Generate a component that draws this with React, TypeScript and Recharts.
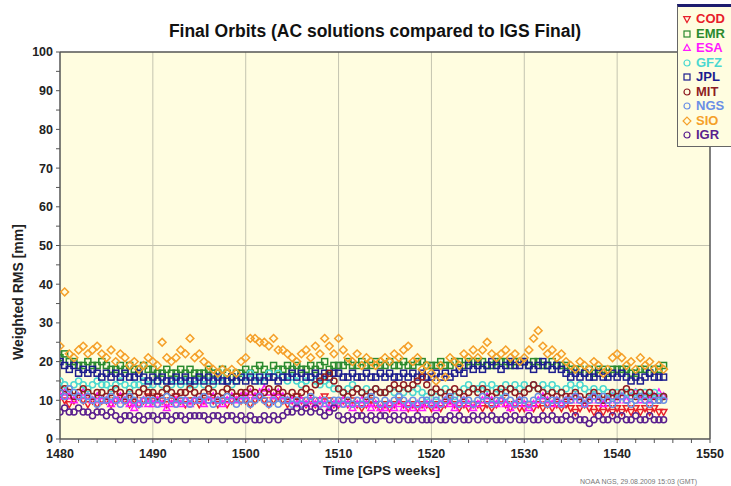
import React from "react"
import { ScatterChart, Scatter, XAxis, YAxis, CartesianGrid, ReferenceLine } from "recharts"

const FONT = "'Liberation Sans', Arial, Helvetica, sans-serif"

// GPS weeks (half-week sampling)
const weeks = [
  1480, 1480.5, 1481, 1481.5, 1482, 1482.5, 1483, 1483.5, 1484, 1484.5,
  1485, 1485.5, 1486, 1486.5, 1487, 1487.5, 1488, 1488.5, 1489, 1489.5,
  1490, 1490.5, 1491, 1491.5, 1492, 1492.5, 1493, 1493.5, 1494, 1494.5,
  1495, 1495.5, 1496, 1496.5, 1497, 1497.5, 1498, 1498.5, 1499, 1499.5,
  1500, 1500.5, 1501, 1501.5, 1502, 1502.5, 1503, 1503.5, 1504, 1504.5,
  1505, 1505.5, 1506, 1506.5, 1507, 1507.5, 1508, 1508.5, 1509, 1509.5,
  1510, 1510.5, 1511, 1511.5, 1512, 1512.5, 1513, 1513.5, 1514, 1514.5,
  1515, 1515.5, 1516, 1516.5, 1517, 1517.5, 1518, 1518.5, 1519, 1519.5,
  1520, 1520.5, 1521, 1521.5, 1522, 1522.5, 1523, 1523.5, 1524, 1524.5,
  1525, 1525.5, 1526, 1526.5, 1527, 1527.5, 1528, 1528.5, 1529, 1529.5,
  1530, 1530.5, 1531, 1531.5, 1532, 1532.5, 1533, 1533.5, 1534, 1534.5,
  1535, 1535.5, 1536, 1536.5, 1537, 1537.5, 1538, 1538.5, 1539, 1539.5,
  1540, 1540.5, 1541, 1541.5, 1542, 1542.5, 1543, 1543.5, 1544, 1544.5,
  1545,
]

const cod = [
  11, 10, 9, 10, 11, 10, 9, 10, 9, 10,
  10, 9, 10, 11, 10, 9, 10, 9, 10, 11,
  10, 11, 10, 9, 10, 11, 10, 9, 10, 10,
  9, 10, 11, 10, 9, 10, 9, 10, 11, 10,
  10, 9, 10, 11, 10, 9, 10, 11, 10, 9,
  10, 11, 10, 9, 10, 9, 10, 11, 10, 9,
  9, 10, 9, 10, 9, 8, 9, 10, 9, 8,
  9, 8, 9, 10, 9, 8, 9, 8, 9, 9,
  8, 9, 8, 9, 10, 9, 8, 9, 8, 9,
  9, 8, 9, 8, 9, 10, 9, 8, 9, 8,
  8, 9, 8, 9, 8, 9, 8, 9, 8, 9,
  8, 7, 8, 9, 8, 7, 8, 7, 8, 7,
  8, 7, 8, 7, 8, 7, 8, 7, 8, 7,
  7,
]

const emr = [
  21, 22, 20, 20, 19, 19, 20, 19, 19, 20,
  19, 18, 18, 19, 18, 19, 18, 18, 19, 18,
  18, 17, 17, 18, 17, 17, 18, 17, 18, 17,
  17, 17, 18, 17, 17, 18, 17, 16, 17, 17,
  18, 17, 18, 19, 18, 17, 19, 18, 18, 19,
  18, 19, 18, 18, 19, 18, 19, 20, 18, 19,
  19, 19, 20, 19, 19, 20, 19, 19, 20, 19,
  19, 20, 19, 19, 20, 19, 19, 20, 20, 19,
  19, 19, 20, 19, 19, 20, 20, 19, 20, 20,
  20, 20, 19, 19, 20, 20, 20, 19, 20, 20,
  20, 19, 20, 20, 19, 19, 20, 19, 19, 19,
  18, 18, 18, 17, 18, 17, 18, 18, 17, 18,
  18, 18, 18, 17, 17, 18, 18, 17, 18, 18,
  19,
]

const esa = [
  11, 12, 11, 10, 11, 12, 11, 10, 11, 10,
  10, 9, 10, 11, 10, 9, 8, 9, 10, 9,
  9, 10, 9, 8, 9, 10, 9, 10, 9, 10,
  10, 9, 10, 11, 10, 9, 10, 11, 10, 11,
  11, 12, 11, 12, 13, 12, 11, 12, 11, 10,
  10, 9, 10, 9, 10, 9, 10, 9, 8, 9,
  9, 10, 9, 8, 9, 10, 9, 8, 9, 8,
  8, 9, 8, 9, 8, 9, 8, 9, 8, 9,
  9, 8, 9, 10, 9, 8, 9, 10, 9, 8,
  9, 10, 11, 10, 9, 10, 9, 8, 9, 10,
  9, 8, 9, 10, 11, 10, 9, 10, 9, 10,
  10, 11, 10, 9, 10, 11, 10, 9, 10, 11,
  10, 11, 10, 11, 12, 10, 11, 10, 11, 12,
  11,
]

const gfz = [
  15, 14, 13, 14, 15, 14, 13, 14, 15, 14,
  14, 13, 14, 15, 14, 13, 14, 14, 15, 14,
  14, 15, 14, 13, 14, 15, 14, 15, 14, 14,
  15, 14, 15, 14, 15, 16, 15, 14, 15, 16,
  16, 17, 16, 15, 16, 17, 16, 17, 16, 15,
  16, 15, 14, 15, 16, 15, 14, 15, 14, 13,
  13, 12, 13, 14, 13, 12, 13, 12, 13, 12,
  12, 13, 12, 11, 12, 13, 12, 13, 12, 11,
  12, 11, 12, 13, 12, 11, 12, 13, 14, 13,
  13, 14, 13, 14, 13, 12, 14, 13, 14, 13,
  14, 13, 14, 13, 14, 13, 14, 13, 12, 13,
  14, 13, 14, 13, 12, 13, 12, 13, 12, 11,
  12, 11, 12, 11, 12, 11, 12, 11, 12, 11,
  11,
]

const jpl = [
  20, 19, 18, 19, 17, 18, 17, 18, 17, 16,
  17, 16, 17, 16, 17, 16, 16, 17, 16, 15,
  16, 15, 16, 15, 15, 16, 15, 16, 15, 15,
  16, 15, 16, 15, 16, 15, 15, 16, 15, 16,
  15, 16, 15, 16, 15, 16, 16, 15, 16, 16,
  17, 16, 17, 16, 16, 17, 16, 17, 16, 17,
  17, 16, 16, 17, 16, 16, 17, 16, 16, 17,
  16, 17, 16, 16, 17, 16, 17, 16, 17, 16,
  16, 17, 16, 17, 16, 17, 18, 17, 19, 18,
  19, 18, 19, 20, 19, 18, 19, 20, 19, 19,
  20, 19, 18, 19, 20, 19, 18, 19, 18, 17,
  16, 17, 16, 17, 16, 16, 17, 16, 16, 17,
  16, 17, 16, 15, 16, 15, 16, 17, 16, 16,
  16,
]

const mit = [
  12, 13, 12, 11, 12, 13, 12, 11, 12, 12,
  11, 12, 13, 12, 11, 12, 11, 12, 13, 12,
  12, 11, 12, 13, 12, 11, 12, 12, 13, 12,
  11, 12, 13, 12, 11, 12, 13, 12, 11, 12,
  12, 13, 12, 11, 12, 13, 12, 13, 12, 11,
  12, 11, 12, 13, 12, 14, 15, 16, 17, 15,
  13, 12, 11, 12, 13, 12, 11, 12, 13, 12,
  12, 13, 14, 13, 14, 13, 14, 15, 16, 14,
  12, 13, 12, 11, 12, 13, 12, 11, 12, 13,
  12, 13, 12, 11, 12, 13, 12, 13, 12, 11,
  12, 13, 14, 13, 12, 11, 12, 11, 12, 11,
  11, 12, 11, 10, 11, 12, 11, 10, 11, 12,
  11, 12, 13, 12, 11, 12, 11, 12, 11, 10,
  11,
]

const ngs = [
  12, 11, 13, 12, 11, 10, 11, 10, 9, 10,
  10, 11, 10, 9, 10, 11, 10, 9, 10, 10,
  10, 9, 10, 11, 10, 9, 10, 10, 9, 10,
  10, 11, 10, 9, 10, 10, 11, 10, 9, 10,
  10, 9, 10, 11, 10, 9, 10, 9, 10, 10,
  9, 10, 9, 10, 11, 10, 9, 10, 9, 10,
  10, 9, 10, 9, 10, 9, 10, 11, 10, 9,
  10, 9, 10, 11, 10, 9, 10, 9, 10, 10,
  9, 10, 9, 10, 11, 10, 9, 10, 10, 9,
  10, 11, 10, 9, 10, 10, 11, 10, 9, 10,
  10, 9, 10, 11, 10, 9, 10, 10, 9, 10,
  10, 11, 10, 9, 10, 11, 10, 11, 10, 9,
  10, 11, 10, 9, 10, 11, 10, 9, 10, 10,
  10,
]

const sio = [
  24, 38, 22, 21, 23, 24, 22, 23, 24, 22,
  21, 23, 20, 22, 21, 19, 20, 18, 19, 21,
  20, 19, 25, 21, 20, 21, 23, 22, 26, 21,
  22, 20, 19, 18, 17, 18, 17, 18, 17, 20,
  21, 26, 26, 25, 25, 24, 26, 23, 23, 22,
  21, 20, 22, 23, 21, 24, 22, 26, 24, 22,
  26, 23, 21, 20, 22, 19, 21, 20, 19, 20,
  21, 20, 22, 21, 23, 24, 20, 21, 18, 19,
  17, 15, 19, 16, 21, 20, 19, 22, 21, 23,
  21, 23, 25, 22, 21, 22, 23, 21, 22, 20,
  21, 23, 26, 28, 24, 22, 23, 21, 22, 20,
  19, 18, 20, 19, 18, 20, 19, 17, 18, 21,
  22, 21, 19, 20, 18, 21, 19, 20, 18, 19,
  18,
]

const igr = [
  7, 8, 7, 7, 8, 7, 7, 6, 7, 7,
  6, 7, 6, 5, 6, 6, 5, 6, 5, 6,
  6, 5, 6, 6, 5, 6, 6, 5, 6, 6,
  6, 6, 5, 6, 6, 5, 6, 6, 5, 6,
  5, 6, 5, 5, 6, 5, 6, 5, 6, 7,
  7, 8, 7, 8, 7, 8, 7, 6, 7, 8,
  6, 5, 6, 5, 6, 6, 5, 6, 5, 6,
  6, 5, 6, 5, 6, 5, 5, 6, 5, 5,
  5, 6, 5, 5, 6, 5, 6, 5, 5, 6,
  5, 6, 5, 6, 5, 5, 6, 5, 6, 5,
  5, 6, 5, 5, 6, 5, 6, 5, 5, 6,
  5, 6, 5, 5, 4, 5, 6, 5, 5, 6,
  5, 6, 5, 5, 6, 5, 5, 6, 5, 5,
  5,
]

const xTicks = [
  1480, 1482, 1484, 1486, 1488, 1490, 1492, 1494, 1496, 1498, 1500, 1502,
  1504, 1506, 1508, 1510, 1512, 1514, 1516, 1518, 1520, 1522, 1524, 1526,
  1528, 1530, 1532, 1534, 1536, 1538, 1540, 1542, 1544, 1546, 1548, 1550,
]
const yTicks = [0, 5, 10, 15, 20, 25, 30, 35, 40, 45, 50, 55, 60, 65, 70, 75, 80, 85, 90, 95, 100]
const gridWeeks = [1490, 1500, 1510, 1520, 1530, 1540]

type Kind = "tri-down" | "tri-up" | "square" | "circle" | "diamond"

const series: { name: string; values: number[]; color: string; kind: Kind }[] = [
  { name: "COD", values: cod, color: "#e8202a", kind: "tri-down" },
  { name: "EMR", values: emr, color: "#2a8a2e", kind: "square" },
  { name: "ESA", values: esa, color: "#ff19ff", kind: "tri-up" },
  { name: "GFZ", values: gfz, color: "#4ad8d0", kind: "circle" },
  { name: "JPL", values: jpl, color: "#1c1c8e", kind: "square" },
  { name: "MIT", values: mit, color: "#8e1c22", kind: "circle" },
  { name: "NGS", values: ngs, color: "#6a8fe6", kind: "circle" },
  { name: "SIO", values: sio, color: "#f5a02a", kind: "diamond" },
  { name: "IGR", values: igr, color: "#5a1f8e", kind: "circle" },
]

function Marker({ cx, cy, kind, color, r = 3, sw = 1.5 }: { cx: number; cy: number; kind: Kind; color: string; r?: number; sw?: number }) {
  if (cx == null || cy == null) return null
  const common = { fill: "none", stroke: color, strokeWidth: sw }
  switch (kind) {
    case "square":
      return <rect x={cx - r} y={cy - r} width={r * 2} height={r * 2} {...common} />
    case "tri-up":
      return <polygon points={`${cx},${cy - r * 1.2} ${cx - r * 1.1},${cy + r * 0.8} ${cx + r * 1.1},${cy + r * 0.8}`} {...common} />
    case "tri-down":
      return <polygon points={`${cx},${cy + r * 1.2} ${cx - r * 1.1},${cy - r * 0.8} ${cx + r * 1.1},${cy - r * 0.8}`} {...common} />
    case "diamond":
      return <polygon points={`${cx},${cy - r * 1.3} ${cx + r * 1.3},${cy} ${cx},${cy + r * 1.3} ${cx - r * 1.3},${cy}`} {...common} />
    default:
      return <circle cx={cx} cy={cy} r={r} {...common} />
  }
}

const tickStyle = { fontSize: 12.5, fontWeight: 700, fill: "#222", fontFamily: FONT }
const axisColor = "#555"

export default function App() {
  return (
    <div style={{ position: "relative", width: 731, height: 486, overflow: "hidden", background: "#fff", fontFamily: FONT }}>
      <style>{`body{margin:0}`}</style>
      <ScatterChart width={731} height={486} margin={{ top: 0, right: 0, bottom: 0, left: 0 }}>
        <CartesianGrid fill="#fffde0" horizontal={false} vertical={false} />
        <XAxis
          xAxisId="b"
          type="number"
          dataKey="x"
          domain={[1480, 1550]}
          ticks={xTicks}
          interval={0}
          tickSize={4}
          tickMargin={6}
          height={47}
          tick={tickStyle}
          tickFormatter={(v: number) => (v % 10 === 0 ? String(v) : "")}
          axisLine={{ stroke: axisColor, strokeWidth: 1.5 }}
          tickLine={{ stroke: axisColor }}
          allowDataOverflow
        />
        <XAxis
          xAxisId="t"
          orientation="top"
          type="number"
          domain={[1480, 1550]}
          ticks={xTicks}
          interval={0}
          tickSize={4}
          height={52}
          tick={false}
          axisLine={{ stroke: axisColor, strokeWidth: 1.5 }}
          tickLine={{ stroke: axisColor }}
          allowDataOverflow
        />
        <YAxis
          yAxisId="l"
          type="number"
          dataKey="y"
          domain={[0, 100]}
          ticks={yTicks}
          interval={0}
          tickSize={4}
          tickMargin={3}
          width={60}
          tick={tickStyle}
          tickFormatter={(v: number) => (v % 10 === 0 ? String(v) : "")}
          axisLine={{ stroke: axisColor, strokeWidth: 1.5 }}
          tickLine={{ stroke: axisColor }}
          allowDataOverflow
        />
        <YAxis
          yAxisId="r"
          orientation="right"
          type="number"
          domain={[0, 100]}
          ticks={yTicks}
          interval={0}
          tickSize={4}
          width={21}
          tick={false}
          axisLine={{ stroke: axisColor, strokeWidth: 1.5 }}
          tickLine={{ stroke: axisColor }}
          allowDataOverflow
        />
        {gridWeeks.map((w) => (
          <ReferenceLine key={w} x={w} xAxisId="b" yAxisId="l" stroke="#c4c4b0" strokeWidth={1} />
        ))}
        <ReferenceLine y={50} xAxisId="b" yAxisId="l" stroke="#c4c4b0" strokeWidth={1} />
        {series.map((s) => (
          <Scatter
            key={s.name}
            name={s.name}
            xAxisId="b"
            yAxisId="l"
            data={weeks.map((w, i) => ({ x: w, y: s.values[i] }))}
            isAnimationActive={false}
            shape={(p: any) => <Marker cx={p.cx} cy={p.cy} kind={s.kind} color={s.color} />}
          />
        ))}
      </ScatterChart>

      <div style={{ position: "absolute", left: 0, width: 750, top: 23, lineHeight: 1, textAlign: "center", fontSize: 17.5, fontWeight: 700, color: "#111" }}>
        Final Orbits (AC solutions compared to IGS Final)
      </div>
      <div style={{ position: "absolute", left: 0, width: 763, top: 464, lineHeight: 1, textAlign: "center", fontSize: 13.5, fontWeight: 700, color: "#222" }}>
        Time [GPS weeks]
      </div>
      <div
        style={{
          position: "absolute",
          left: 18,
          top: 292,
          transform: "translate(-50%, -50%) rotate(-90deg)",
          whiteSpace: "nowrap",
          lineHeight: 1,
          fontSize: 14,
          fontWeight: 700,
          color: "#222",
        }}
      >
        Weighted RMS [mm]
      </div>
      <div style={{ position: "absolute", left: 580, top: 478, lineHeight: 1, fontSize: 7, color: "#777", whiteSpace: "nowrap" }}>
        NOAA NGS, 29.08.2009 15:03 (GMT)
      </div>

      <div
        style={{
          position: "absolute",
          left: 677,
          top: 4,
          width: 70,
          height: 143,
          background: "#fffde0",
          borderTop: "3px solid #1c1c6e",
          borderLeft: "1px solid #666",
          borderBottom: "1px solid #666",
          boxSizing: "border-box",
        }}
      >
        {series.map((s, i) => (
          <div key={s.name} style={{ position: "absolute", left: 4, top: 5 + i * 14.5, height: 14, display: "flex", alignItems: "center" }}>
            <svg width={10} height={10} style={{ marginRight: 4 }}>
              <Marker cx={5} cy={5} kind={s.kind} color={s.color} r={3} sw={1.2} />
            </svg>
            <span style={{ fontSize: 13, fontWeight: 700, color: s.color, lineHeight: "14px" }}>{s.name}</span>
          </div>
        ))}
      </div>
    </div>
  )
}
